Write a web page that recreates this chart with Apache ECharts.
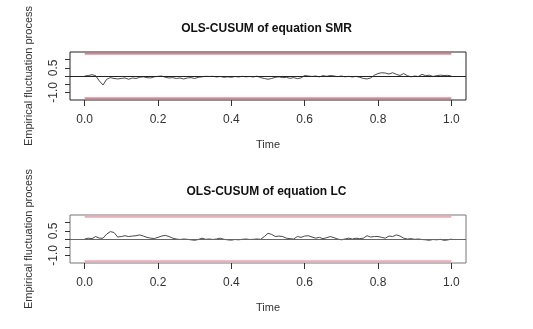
<!DOCTYPE html>
<html>
<head>
<meta charset="utf-8">
<script src="https://cdn.jsdelivr.net/npm/echarts@6/dist/echarts.min.js"></script>
<style>
  html, body { margin: 0; padding: 0; background: #fff; }
  #main { width: 533px; height: 329px; }
</style>
</head>
<body>
<div id="main"></div>
<script>
// time points (fraction of sample)
var timeVals = [0, 0.01, 0.02, 0.03, 0.04, 0.05, 0.06, 0.07, 0.08, 0.09,
  0.10, 0.11, 0.12, 0.13, 0.14, 0.15, 0.16, 0.17, 0.18, 0.19,
  0.20, 0.21, 0.22, 0.23, 0.24, 0.25, 0.26, 0.27, 0.28, 0.29,
  0.30, 0.31, 0.32, 0.33, 0.34, 0.35, 0.36, 0.37, 0.38, 0.39,
  0.40, 0.41, 0.42, 0.43, 0.44, 0.45, 0.46, 0.47, 0.48, 0.49,
  0.50, 0.51, 0.52, 0.53, 0.54, 0.55, 0.56, 0.57, 0.58, 0.59,
  0.60, 0.61, 0.62, 0.63, 0.64, 0.65, 0.66, 0.67, 0.68, 0.69,
  0.70, 0.71, 0.72, 0.73, 0.74, 0.75, 0.76, 0.77, 0.78, 0.79,
  0.80, 0.81, 0.82, 0.83, 0.84, 0.85, 0.86, 0.87, 0.88, 0.89,
  0.90, 0.91, 0.92, 0.93, 0.94, 0.95, 0.96, 0.97, 0.98, 0.99, 1.00];

// empirical fluctuation process, equation SMR
var smrProcess = [0, 0.03, 0.08, 0.02, -0.3, -0.55, -0.2, -0.1, -0.15, -0.18,
  -0.15, -0.12, -0.2, -0.12, -0.15, -0.08, -0.05, -0.1, -0.12, -0.05,
  -0.02, 0.0, -0.08, -0.12, -0.1, -0.15, -0.12, -0.18, -0.12, -0.1,
  -0.15, -0.08, -0.05, -0.02, -0.03, -0.02, -0.06, -0.03, -0.08, -0.05,
  -0.08, -0.03, -0.06, -0.02, -0.05, -0.03, -0.06, -0.01, -0.1, -0.15,
  -0.2, -0.15, -0.08, -0.05, -0.1, -0.08, -0.14, -0.1, -0.16, -0.12,
  0.03, 0.0, -0.03, 0.0, -0.05, 0.02, -0.02, 0.03, 0.0, -0.04,
  0.0, -0.05, -0.02, -0.06, -0.02, -0.08, -0.15, -0.18, -0.12, 0.05,
  0.15, 0.2, 0.18, 0.12, 0.2, 0.1, 0.03, 0.15, 0.02, -0.05,
  0.0, -0.03, 0.1, 0.02, 0.05, -0.03, 0.02, 0.05, 0.03, 0.04, 0.0];

// empirical fluctuation process, equation LC
var lcProcess = [0, 0.05, 0.02, 0.15, 0.05, 0.05, 0.3, 0.45, 0.4, 0.12,
  0.15, 0.2, 0.15, 0.18, 0.2, 0.25, 0.18, 0.1, 0.05, 0.03,
  0.1, 0.18, 0.22, 0.15, 0.05, 0.0, -0.03, 0.0, -0.02, -0.05,
  -0.08, -0.03, 0.05, -0.02, 0.0, -0.03, 0.0, 0.05, -0.02, -0.05,
  -0.07, -0.03, -0.05, -0.02, 0.0, -0.03, -0.02, 0.0, -0.02, 0.15,
  0.35, 0.28, 0.15, 0.18, 0.15, 0.05, 0.02, 0.0, 0.15, 0.1,
  0.18, 0.2, 0.12, 0.05, 0.1, 0.02, 0.08, 0.15, 0.08, 0.0,
  -0.05, 0.0, 0.05, 0.0, 0.05, 0.02, 0.05, 0.2, 0.12, 0.15,
  0.15, 0.1, 0.05, 0.18, 0.15, 0.25, 0.18, 0.05, 0.0, 0.02,
  -0.02, 0.0, -0.03, -0.05, -0.08, -0.03, -0.05, -0.02, -0.08, -0.06, 0];

// 5% boundaries
var boundTime = [0, 1];
var boundValue = 1.358;

var xTicks = [0, 0.2, 0.4, 0.6, 0.8, 1.0];
var yTicks = [-1.0, -0.5, 0, 0.5, 1.0];
var yLabels = [-1.0, 0.5];

var titles = ['OLS-CUSUM of equation SMR', 'OLS-CUSUM of equation LC'];

function pairs(xs, ys) {
  return xs.map(function (x, i) { return [x, ys[i]]; });
}

var font = 'Liberation Sans, Arial, sans-serif';
var main = document.getElementById('main');
var myChart = echarts.init(main, null, { renderer: 'canvas' });

var panels = [
  { top: 52, data: smrProcess, box: '#222', zero: '#222', bound: '#DF536B', boundW: 1.3 },
  { top: 215, data: lcProcess, box: '#777', zero: '#666', bound: '#F2AAB6', boundW: 2 }
];

var option = {
  backgroundColor: '#fff',
  animation: false,
  title: [],
  grid: [],
  xAxis: [],
  yAxis: [],
  series: []
};

panels.forEach(function (p, k) {
  option.title.push({
    text: titles[k],
    left: 'center',
    top: p.top - 29,
    padding: 0,
    textStyle: { fontFamily: font, fontSize: 12, fontWeight: 'bold', color: '#111' }
  });
  option.grid.push({
    left: 70, top: p.top, width: 396, height: 48,
    show: true, borderColor: p.box, borderWidth: 1, backgroundColor: 'transparent'
  });
  option.xAxis.push({
    type: 'value', gridIndex: k,
    min: -0.04, max: 1.04,
    name: 'Time', nameLocation: 'middle', nameGap: 39,
    nameTextStyle: { fontFamily: font, fontSize: 11, color: '#333' },
    axisLine: { show: false, onZero: false },
    axisTick: { show: true, inside: false, length: 6, customValues: xTicks, lineStyle: { color: '#333' } },
    axisLabel: {
      customValues: xTicks, margin: 14,
      fontFamily: font, fontSize: 12, color: '#333',
      formatter: function (v) { return v.toFixed(1); }
    },
    splitLine: { show: false }
  });
  option.yAxis.push({
    type: 'value', gridIndex: k,
    min: -1.467, max: 1.467,
    name: 'Empirical fluctuation process', nameLocation: 'middle', nameGap: 36, nameRotate: 90,
    nameTextStyle: { fontFamily: font, fontSize: 11, color: '#333' },
    axisLine: { show: false, onZero: false },
    axisTick: { show: true, inside: false, length: 5, customValues: yTicks, lineStyle: { color: '#333' } },
    axisLabel: {
      customValues: yLabels, rotate: 90, margin: 10,
      fontFamily: font, fontSize: 12, color: '#333',
      formatter: function (v) { return v.toFixed(1); }
    },
    splitLine: { show: false }
  });
  option.series.push({
    type: 'line', xAxisIndex: k, yAxisIndex: k,
    data: pairs(timeVals, p.data),
    showSymbol: false, symbol: 'none',
    lineStyle: { color: '#333', width: 0.9 },
    markLine: {
      silent: true, symbol: 'none', label: { show: false },
      lineStyle: { color: p.zero, width: 1, type: 'solid' },
      data: [{ yAxis: 0 }]
    },
    z: 3
  });
  option.series.push({
    type: 'line', xAxisIndex: k, yAxisIndex: k,
    data: pairs(boundTime, [boundValue, boundValue]),
    showSymbol: false, symbol: 'none',
    lineStyle: { color: p.bound, width: p.boundW }
  });
  option.series.push({
    type: 'line', xAxisIndex: k, yAxisIndex: k,
    data: pairs(boundTime, [-boundValue, -boundValue]),
    showSymbol: false, symbol: 'none',
    lineStyle: { color: p.bound, width: p.boundW }
  });
});

myChart.setOption(option);
</script>
</body>
</html>
